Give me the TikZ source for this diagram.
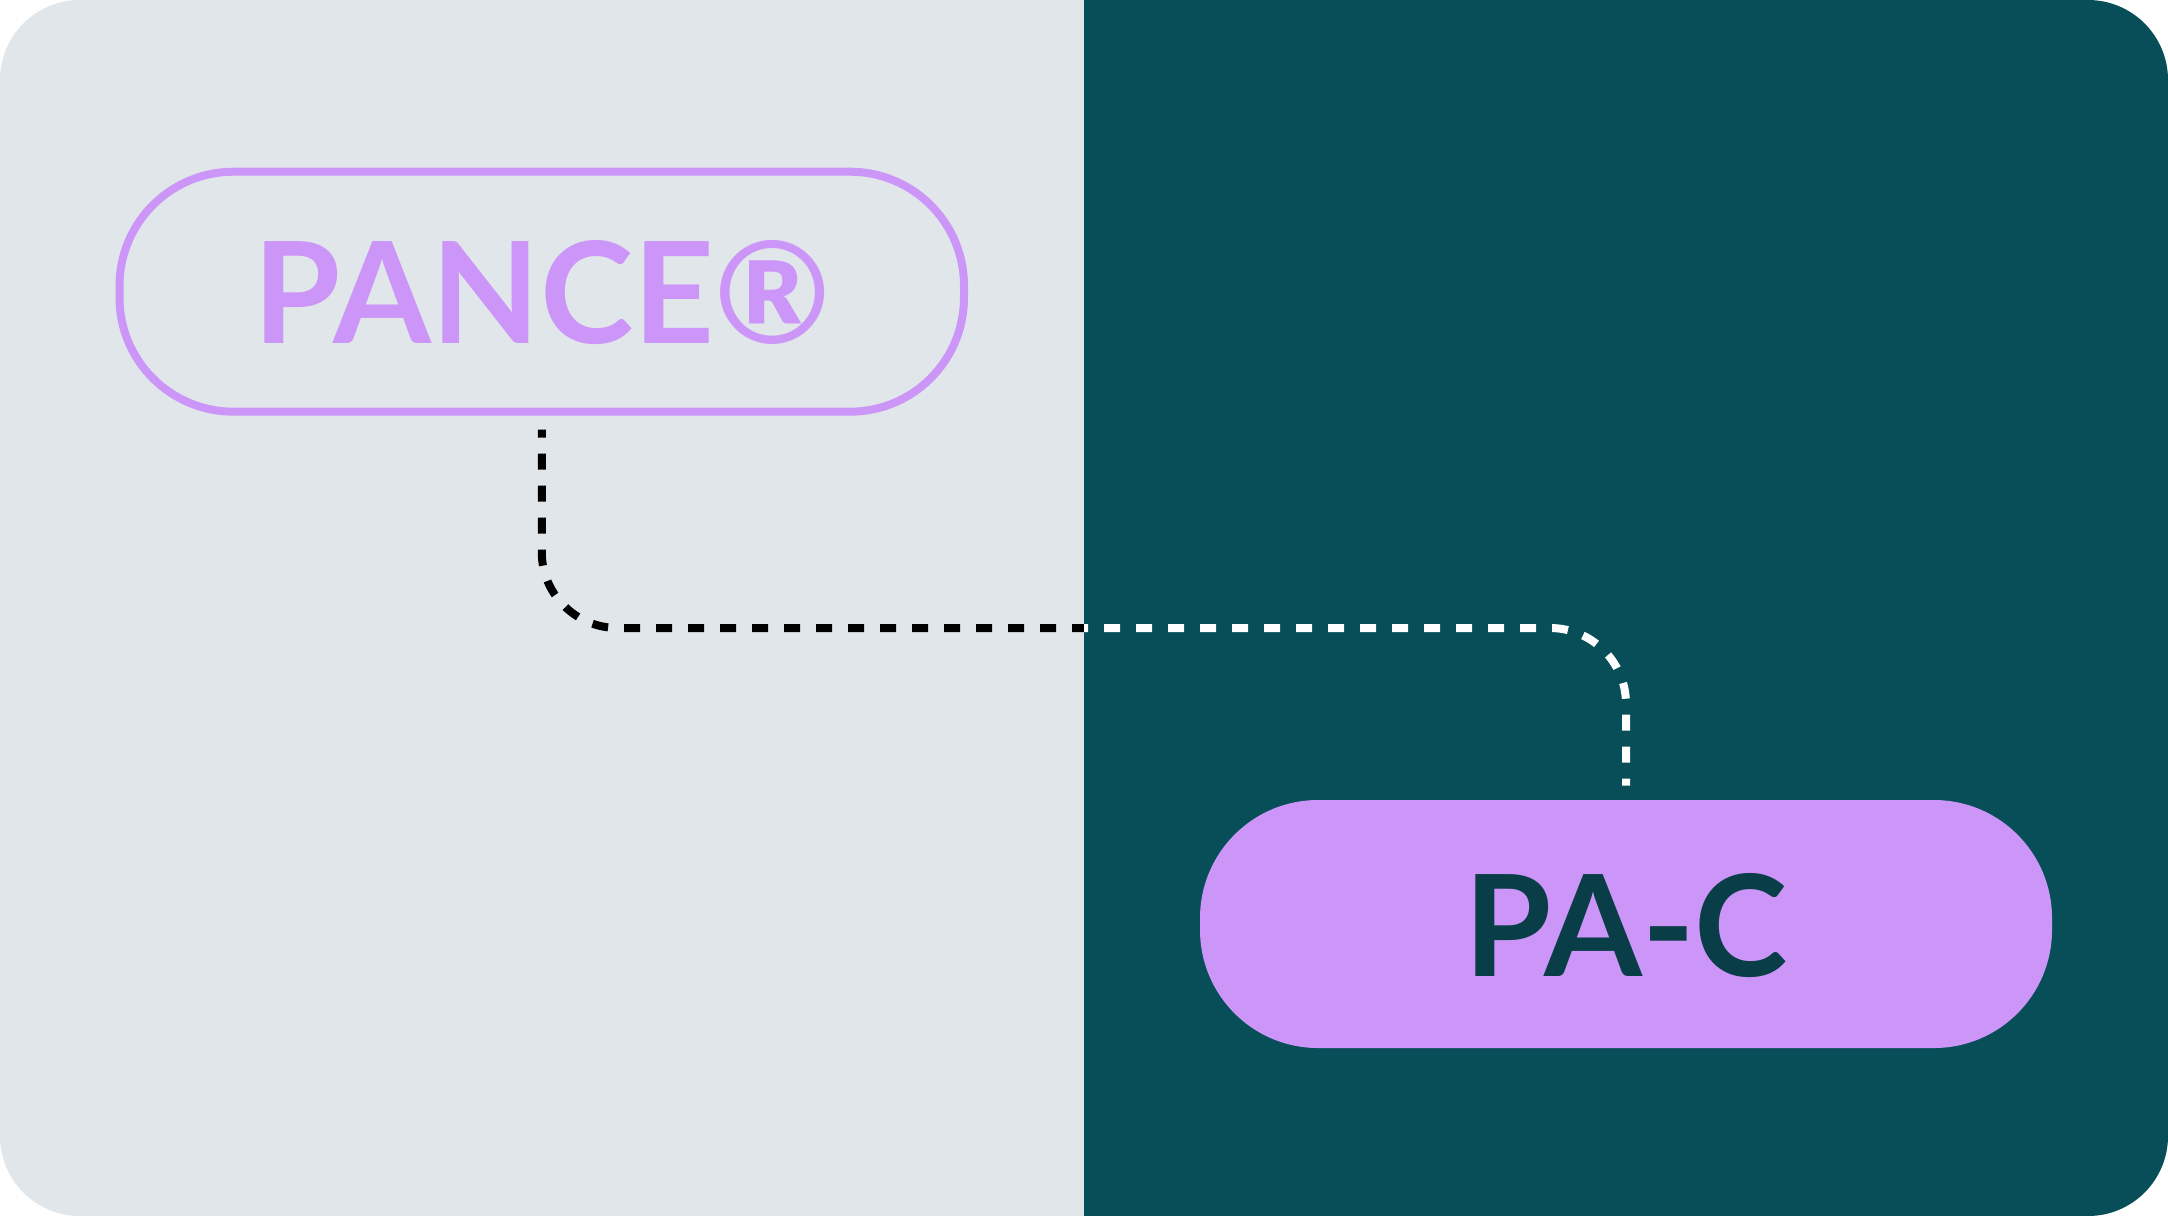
\documentclass[tikz,border=0pt]{standalone}
\usepackage{fontspec}
\newfontfamily\lato{Lato}
\definecolor{bgleft}{HTML}{E1E6EA}
\definecolor{bgright}{HTML}{074E59}
\definecolor{lilac}{HTML}{CC96F8}
\definecolor{darktext}{HTML}{093D47}
\tikzset{
  pill/.style={rectangle, inner sep=0pt, text height=52pt, text depth=0pt, font=\lato\bfseries\fontsize{70.5pt}{70.5pt}\selectfont},
  outlinepill/.style={pill, draw=lilac, line width=4pt, text=lilac, minimum width=422.25pt, minimum height=120pt, rounded corners=57pt},
  filledpill/.style={pill, fill=lilac, text=darktext, minimum width=426pt, minimum height=124pt, rounded corners=59pt},
  conn/.style={line width=4pt, dash pattern=on 8pt off 8pt, dash phase=4pt, rounded corners=38pt, shorten <=7pt, shorten >=7pt}
}
\begin{document}
\begin{tikzpicture}[x=0.5pt,y=-0.5pt]
\useasboundingbox (0,0) rectangle (2168,1216);
\fill[white] (0,0) rectangle (2168,1216);
\begin{scope}
  \clip[rounded corners=40pt] (0,0) rectangle (2168,1216);
  \fill[bgleft] (0,0) rectangle (1084,1216);
  \fill[bgright] (1084,0) rectangle (2168,1216);
\end{scope}
\node[outlinepill] (pance) at (541.75,291.7) {PANCE®};
\node[filledpill] (pac) at (1626,924) {PA-C};
\coordinate (mid) at (1084,628);
\begin{scope}
  \clip (0,0) rectangle (1084,1216);
  \draw[conn, black] (pance.south) |- (mid) -| (pac.north);
\end{scope}
\begin{scope}
  \clip (1084,0) rectangle (2168,1216);
  \draw[conn, white] (pance.south) |- (mid) -| (pac.north);
\end{scope}
\end{tikzpicture}
\end{document}
